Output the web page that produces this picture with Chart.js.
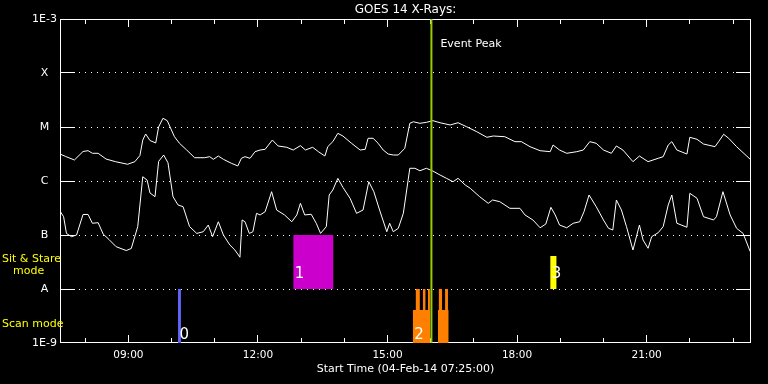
<!DOCTYPE html>
<html>
<head>
<meta charset="utf-8">
<script src="https://cdn.jsdelivr.net/npm/chart.js@4.4.1/dist/chart.umd.min.js"></script>
<style>
html,body{margin:0;padding:0;background:#000;}
#wrap{width:768px;height:384px;}
</style>
</head>
<body>
<div id="wrap"><canvas id="c" width="768" height="384"></canvas></div>
<script>
// ---------- DATA ----------
const chartTitle = 'GOES 14 X-Rays:';
const xAxisTitle = 'Start Time (04-Feb-14 07:25:00)';
const timeStart = '07:25';
const timeEnd = '23:25';
const xTickHours = [8,9,10,11,12,13,14,15,16,17,18,19,20,21,22,23];
const xLabelHours = [9,12,15,18,21];
const yTickValues = [1e-9,1e-8,1e-7,1e-6,1e-5,1e-4,1e-3];
const yTickLabels = ['1E-9','A','B','C','M','X','1E-3'];

// GOES 1-8 A (upper curve)
const longTimes = [
'07:25','07:33','07:45','07:57','08:04','08:10','08:18','08:29','08:42','08:59',
'09:09','09:16','09:20','09:24','09:30','09:38','09:42','09:48','09:54','10:04',
'10:11','10:21','10:32','10:46','10:53','10:58','11:05','11:12','11:23','11:32',
'11:37','11:42','11:49','11:56','12:03','12:10','12:20','12:28','12:40','12:49',
'12:59','13:06','13:16','13:24','13:33','13:37','13:44','13:51','13:58','14:10',
'14:22','14:29','14:33','14:40','14:47','14:54','15:01','15:08','15:15','15:24',
'15:31','15:36','15:45','15:54','16:03','16:13','16:27','16:38','16:50','17:04',
'17:18','17:27','17:43','17:57','18:06','18:18','18:32','18:46','18:50','18:59',
'19:09','19:23','19:32','19:41','19:50','20:00','20:11','20:18','20:27','20:41',
'20:50','21:02','21:16','21:23','21:30','21:35','21:42','21:56','22:00','22:10',
'22:19','22:35','22:40','22:47','22:54','23:05','23:24'];
const longFlux = [
3.16e-6,2.84e-6,2.45e-6,3.52e-6,3.64e-6,3.26e-6,3.26e-6,2.55e-6,2.28e-6,2.04e-6,
2.28e-6,2.96e-6,5.74e-6,7.42e-6,5.62e-6,5.06e-6,1.0e-5,1.45e-5,1.31e-5,6.61e-6,
4.99e-6,3.75e-6,2.70e-6,2.70e-6,2.82e-6,2.52e-6,2.90e-6,2.52e-6,2.13e-6,1.90e-6,
2.63e-6,2.82e-6,2.63e-6,3.49e-6,3.75e-6,3.86e-6,5.74e-6,4.45e-6,4.21e-6,3.75e-6,
4.51e-6,3.75e-6,4.21e-6,3.49e-6,2.90e-6,4.32e-6,5.35e-6,7.64e-6,6.81e-6,4.99e-6,
3.75e-6,3.86e-6,6.18e-6,6.18e-6,4.99e-6,3.75e-6,3.16e-6,3.03e-6,3.03e-6,4.03e-6,
1.17e-5,1.25e-5,1.17e-5,1.22e-5,1.31e-5,1.20e-5,1.09e-5,1.20e-5,1.01e-5,8.18e-6,
6.45e-6,6.81e-6,6.61e-6,5.35e-6,5.35e-6,4.32e-6,3.64e-6,3.49e-6,4.64e-6,3.75e-6,
3.26e-6,3.49e-6,3.75e-6,5.35e-6,4.99e-6,3.75e-6,3.26e-6,4.45e-6,3.75e-6,2.28e-6,
2.90e-6,2.28e-6,2.63e-6,2.82e-6,4.64e-6,5.35e-6,3.75e-6,3.16e-6,6.45e-6,5.92e-6,
4.84e-6,4.32e-6,5.35e-6,7.33e-6,6.18e-6,4.32e-6,2.52e-6];

// GOES 0.5-4 A (lower curve)
const shortTimes = [
'07:25','07:30','07:34','07:41','07:48','07:57','08:04','08:10','08:18','08:25',
'08:33','08:43','08:57','09:04','09:13','09:20','09:26','09:30','09:37','09:42',
'09:49','09:55','10:02','10:09','10:16','10:25','10:35','10:44','10:51','10:57',
'11:05','11:12','11:21','11:28','11:35','11:38','11:42','11:48','11:53','11:58',
'12:03','12:10','12:19','12:26','12:37','12:47','12:54','12:59','13:05','13:14',
'13:21','13:27','13:35','13:39','13:44','13:51','13:58','14:08','14:17','14:26',
'14:34','14:41','14:49','14:59','15:03','15:08','15:15','15:22','15:31','15:38',
'15:45','15:54','16:03','16:13','16:22','16:31','16:38','16:48','16:55','17:08',
'17:20','17:26','17:36','17:50','18:04','18:11','18:22','18:32','18:40','18:47',
'18:53','18:59','19:09','19:18','19:27','19:33','19:40','19:50','20:00','20:07',
'20:13','20:18','20:25','20:32','20:41','20:50','20:55','21:02','21:07','21:16',
'21:23','21:30','21:35','21:42','21:56','22:00','22:10','22:19','22:33','22:37',
'22:46','22:56','23:05','23:14','23:24'];
const shortFlux = [
2.78e-7,2.18e-7,1.07e-7,9.31e-8,1.0e-7,2.40e-7,2.40e-7,1.65e-7,1.69e-7,1.04e-7,
8.26e-8,6.07e-8,5.16e-8,5.62e-8,1.43e-7,1.20e-6,1.04e-6,6.0e-7,5.12e-7,2.30e-6,
3.03e-6,2.18e-6,5.12e-7,3.60e-7,3.34e-7,1.43e-7,1.07e-7,1.15e-7,1.53e-7,9.31e-8,
1.76e-7,1.0e-7,6.53e-8,5.27e-8,3.87e-8,1.90e-7,1.76e-7,1.07e-7,1.15e-7,2.52e-7,
2.35e-7,2.70e-7,6.34e-7,2.90e-7,2.35e-7,1.76e-7,2.35e-7,3.86e-7,2.35e-7,2.42e-7,
1.65e-7,1.07e-7,1.43e-7,5.51e-7,6.81e-7,1.12e-6,7.64e-7,4.78e-7,2.52e-7,2.90e-7,
9.70e-7,6.34e-7,2.90e-7,1.15e-7,1.65e-7,1.15e-7,1.33e-7,2.52e-7,1.72e-6,1.72e-6,
1.55e-6,1.72e-6,1.53e-6,1.29e-6,1.12e-6,9.70e-7,1.12e-6,8.43e-7,7.32e-7,5.12e-7,
3.86e-7,4.45e-7,4.14e-7,3.12e-7,3.12e-7,2.35e-7,1.90e-7,1.36e-7,1.60e-7,3.26e-7,
2.35e-7,1.53e-7,1.36e-7,1.65e-7,1.76e-7,2.70e-7,5.51e-7,3.34e-7,1.90e-7,1.33e-7,
1.24e-7,4.45e-7,2.90e-7,1.43e-7,5.27e-8,1.53e-7,8.08e-8,5.67e-8,9.31e-8,1.10e-7,
1.43e-7,3.60e-7,5.51e-7,1.65e-7,1.39e-7,5.92e-7,4.78e-7,2.18e-7,1.90e-7,2.18e-7,
6.34e-7,2.35e-7,1.33e-7,1.07e-7,4.91e-8];

// Event peak
const peakTime = '16:01';
const peakLabel = 'Event Peak';

// Observation blocks (start, end, low flux, high flux, colour)
const blockStart = ['10:09','12:49','15:35','16:10','15:39','15:49','15:56','16:11','16:20','18:46'];
const blockEnd   = ['10:13','13:45','15:59','16:25','15:45','15:53','15:59','16:16','16:24','18:55'];
const blockLow   = [1e-9,1e-8,1e-9,1e-9,1e-9,1e-9,1e-9,1e-9,1e-9,1e-8];
const blockHigh  = [1e-8,1e-7,4.1e-9,4.1e-9,1e-8,1e-8,1e-8,1e-8,1e-8,4.1e-8];
const blockColor = ['#6464ff','#cc00cc','#ff8000','#ff8000','#ff8000','#ff8000','#ff8000','#ff8000','#ff8000','#ffff00'];

// Observation numbers
const obsLabels = ['0','1','2','3'];
const obsLabelTimes = ['10:09','12:49','15:35','18:46'];
const obsLabelRow = ['scan','sit','scan','sit'];

// Mode labels
const sitLabel1 = 'Sit & Stare';
const sitLabel2 = 'mode';
const scanLabel = 'Scan mode';

// ---------- HELPERS ----------
function hrs(t){ const p = t.split(':'); return (+p[0]) + (+p[1])/60; }
function fmtHour(h){ return (h<10?'0':'') + h + ':00'; }
const FONT = 'DejaVu Sans';

const datasets = [];
datasets.push({
  label:'peak', data:[{x:hrs(peakTime),y:1e-9},{x:hrs(peakTime),y:1e-3}],
  borderColor:'#99cc00', borderWidth:2, pointRadius:0, fill:false
});
datasets.push({
  label:'long', data: longTimes.map((t,i)=>({x:hrs(t), y:longFlux[i]})),
  borderColor:'#ffffff', borderWidth:1, pointRadius:0, fill:false, tension:0
});
datasets.push({
  label:'short', data: shortTimes.map((t,i)=>({x:hrs(t), y:shortFlux[i]})),
  borderColor:'#ffffff', borderWidth:1, pointRadius:0, fill:false, tension:0
});
for (let i=0;i<blockStart.length;i++){
  datasets.push({
    label:'block'+i,
    data:[{x:hrs(blockStart[i]), y:blockHigh[i]},{x:hrs(blockEnd[i]), y:blockHigh[i]}],
    borderColor:'rgba(0,0,0,0)', borderWidth:1, pointRadius:0,
    backgroundColor: blockColor[i], fill:{value: blockLow[i]}
  });
}

const decor = {
  id:'decor',
  beforeDraw(chart){
    const ctx = chart.ctx;
    ctx.save(); ctx.fillStyle='#000'; ctx.fillRect(0,0,chart.width,chart.height); ctx.restore();
  },
  beforeDatasetsDraw(chart){
    const {ctx, chartArea:{left,right,top,bottom}, scales:{x,y}} = chart;
    ctx.save();
    ctx.strokeStyle='#fff'; ctx.lineWidth=1;
    // dotted grid lines
    ctx.setLineDash([1,5]);
    for (let i=1;i<yTickValues.length-1;i++){
      const py = Math.floor(y.getPixelForValue(yTickValues[i]))+0.5;
      ctx.beginPath(); ctx.moveTo(left+19,py); ctx.lineTo(right-15,py); ctx.stroke();
    }
    ctx.setLineDash([]);
    // frame
    ctx.strokeRect(left+0.5, top+0.5, right-left-1, bottom-top-1);
    // y ticks both sides
    for (let i=1;i<yTickValues.length-1;i++){
      const py = Math.floor(y.getPixelForValue(yTickValues[i]))+0.5;
      ctx.beginPath();
      ctx.moveTo(left,py); ctx.lineTo(left+15,py);
      ctx.moveTo(right-15,py); ctx.lineTo(right,py);
      ctx.stroke();
    }
    // x ticks top & bottom, inward
    for (const h of xTickHours){
      const px = Math.floor(x.getPixelForValue(h))+0.5;
      const len = (h%3===0)?7:4;
      ctx.beginPath();
      ctx.moveTo(px,bottom-1); ctx.lineTo(px,bottom-1-len);
      ctx.moveTo(px,top+1); ctx.lineTo(px,top+1+len);
      ctx.stroke();
    }
    ctx.restore();
  },
  afterDatasetsDraw(chart){
    const {ctx, chartArea:{left,top}, scales:{x,y}} = chart;
    ctx.save();
    // event peak text
    ctx.fillStyle='#fff';
    ctx.font = '11px "'+FONT+'"';
    ctx.textBaseline='alphabetic'; ctx.textAlign='left';
    ctx.fillText(peakLabel, x.getPixelForValue(hrs(peakTime))+9, top+28);
    // observation numbers
    ctx.font = '15px "'+FONT+'"';
    for (let i=0;i<obsLabels.length;i++){
      const px = x.getPixelForValue(hrs(obsLabelTimes[i]))+1.5;
      const py = obsLabelRow[i]==='sit' ? y.getPixelForValue(1e-8)-11 : y.getPixelForValue(1e-9)-4;
      ctx.fillText(obsLabels[i], px, py);
    }
    // mode labels
    ctx.fillStyle='#ffff00';
    ctx.font = '11px "'+FONT+'"';
    ctx.textBaseline='middle';
    const ySit = y.getPixelForValue(1e-8);
    ctx.fillText(sitLabel1, 2, ySit-30);
    ctx.fillText(sitLabel2, 13, ySit-18);
    ctx.fillText(scanLabel, 2, y.getPixelForValue(1e-9)-19);
    ctx.restore();
  }
};

new Chart(document.getElementById('c'), {
  type:'line',
  data:{datasets},
  options:{
    responsive:false, animation:false, devicePixelRatio:1,
    layout:{padding:{left:0,right:17,top:0,bottom:0}},
    plugins:{
      legend:{display:false}, tooltip:{enabled:false},
      title:{display:true, text:chartTitle, color:'#fff', fullSize:false,
        font:{family:FONT, size:12, weight:'normal', lineHeight:1},
        padding:{top:3.5,bottom:3.5}}
    },
    scales:{
      x:{
        type:'linear', min:hrs(timeStart), max:hrs(timeEnd),
        afterBuildTicks:(s)=>{ s.ticks = xTickHours.map(v=>({value:v})); },
        afterFit:(s)=>{ s.height = 41; },
        grid:{display:false, drawTicks:false}, border:{display:false},
        ticks:{color:'#fff', font:{family:FONT, size:10.5}, padding:6, autoSkip:false, maxRotation:0,
          callback:(v)=> xLabelHours.includes(v) ? fmtHour(v) : ''},
        title:{display:true, text:xAxisTitle, color:'#fff', font:{family:FONT, size:11}, padding:{top:0,bottom:8}}
      },
      y:{
        type:'logarithmic', min:1e-9, max:1e-3,
        afterBuildTicks:(s)=>{ s.ticks = yTickValues.map(v=>({value:v})); },
        afterFit:(s)=>{ s.width = 60; },
        grid:{display:false, drawTicks:false}, border:{display:false},
        ticks:{color:'#fff', font:{family:FONT, size:11}, padding:3, crossAlign:'center', autoSkip:false,
          callback:(v,i)=> yTickLabels[i]}
      }
    }
  },
  plugins:[decor]
});
</script>
</body>
</html>
